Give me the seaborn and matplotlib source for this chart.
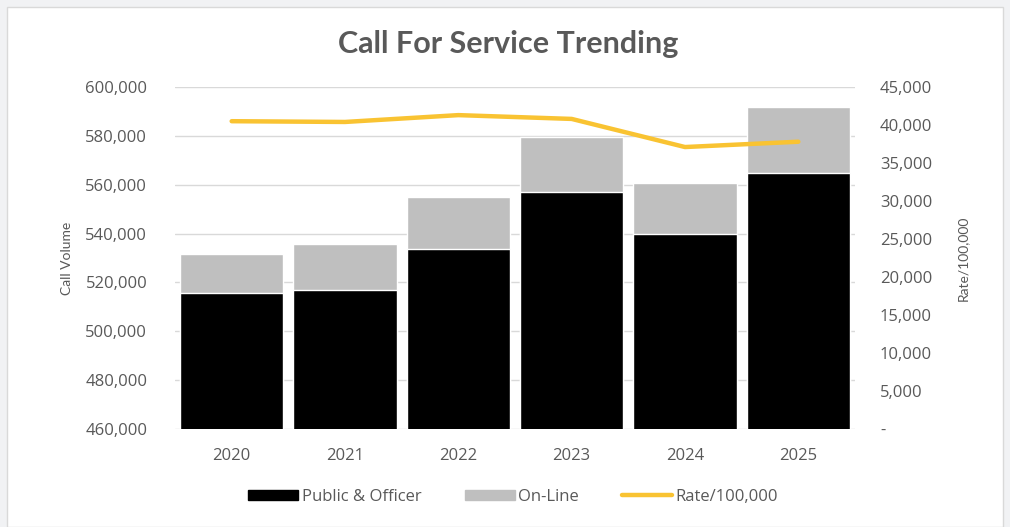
import numpy as np
import pandas as pd
import seaborn as sns
import matplotlib.pyplot as plt
from matplotlib.patches import Rectangle
from matplotlib.lines import Line2D
from matplotlib.ticker import FuncFormatter

years = ["2020", "2021", "2022", "2023", "2024", "2025"]
public_officer = [515700, 517000, 533700, 557100, 539900, 564800]
on_line = [16000, 18800, 21300, 22500, 20900, 27000]
rate = [40500, 40400, 41300, 40800, 37100, 37800]

sns.set_theme(style="white")
plt.rcParams["font.family"] = ["Open Sans", "DejaVu Sans"]

df = pd.DataFrame({"year": years, "public": public_officer, "online": on_line, "rate": rate})
df["total"] = df["public"] + df["online"]
df["pos"] = np.arange(len(years))

text_col = "#595959"
fig = plt.figure(figsize=(10.1, 5.27), dpi=100, facecolor="#f1f2f4")
fig.patches.append(Rectangle((7 / 1010, 0), 996 / 1010, 520 / 527, transform=fig.transFigure,
                             facecolor="white", edgecolor="#d9d9d9", lw=1, zorder=-10))
ax = fig.add_axes([175 / 1010, 98 / 527, 680 / 1010, 342 / 527])
ax.set_facecolor("none")

sns.barplot(data=df, x="year", y="total", color="#bfbfbf", saturation=1, width=0.91, ax=ax, zorder=2)
sns.barplot(data=df, x="year", y="public", color="#000000", saturation=1, width=0.91, ax=ax, zorder=3)

ax.set_ylim(460000, 600000)
ax.set_yticks(np.arange(460000, 600001, 20000))
ax.yaxis.set_major_formatter(FuncFormatter(lambda v, p: f"{int(v):,}"))
ax.grid(axis="y", color="#d9d9d9", lw=1, zorder=0)
ax.set_axisbelow(True)
ax.set_xlabel("")
ax.set_ylabel("Call Volume", fontsize=10, color=text_col, labelpad=9, family="Lato")
ax.tick_params(axis="both", length=0, labelsize=12, colors=text_col)
ax.tick_params(axis="y", pad=20)
ax.tick_params(axis="x", pad=14)
for s in ax.spines.values():
    s.set_visible(False)

ax2 = ax.twinx()
sns.lineplot(data=df, x="pos", y="rate", color="#f9c332", lw=3.2, ax=ax2, zorder=5)
ax2.set_ylim(0, 45000)
ax2.set_yticks(np.arange(0, 45001, 5000))
ax2.yaxis.set_major_formatter(FuncFormatter(lambda v, p: "-" if v == 0 else f"{int(v):,}"))
ax2.set_ylabel("Rate/100,000", fontsize=10, color=text_col, labelpad=18, family="Lato")
ax2.tick_params(axis="y", length=0, labelsize=12, colors=text_col, pad=18)
ax2.set_xlim(-0.5, 5.5)
for s in ax2.spines.values():
    s.set_visible(False)

fig.text(508 / 1010, 1 - 44 / 527, "Call For Service Trending", ha="center", va="center",
         fontsize=22, fontweight="bold", color=text_col, family="Lato")

handles = [Rectangle((0, 0), 1, 1, color="#000000"),
           Rectangle((0, 0), 1, 1, color="#bfbfbf"),
           Line2D([0], [0], color="#f9c332", lw=3.2)]
fig.legend(handles, ["Public & Officer", "On-Line", "Rate/100,000"], loc="center",
           bbox_to_anchor=(513 / 1010, 1 - 497 / 527), ncol=3, frameon=False, fontsize=12,
           labelcolor=text_col, handlelength=3.0, handleheight=0.6, handletextpad=0.2, columnspacing=2.6)

fig.savefig("out.png", dpi=100, facecolor=fig.get_facecolor())
